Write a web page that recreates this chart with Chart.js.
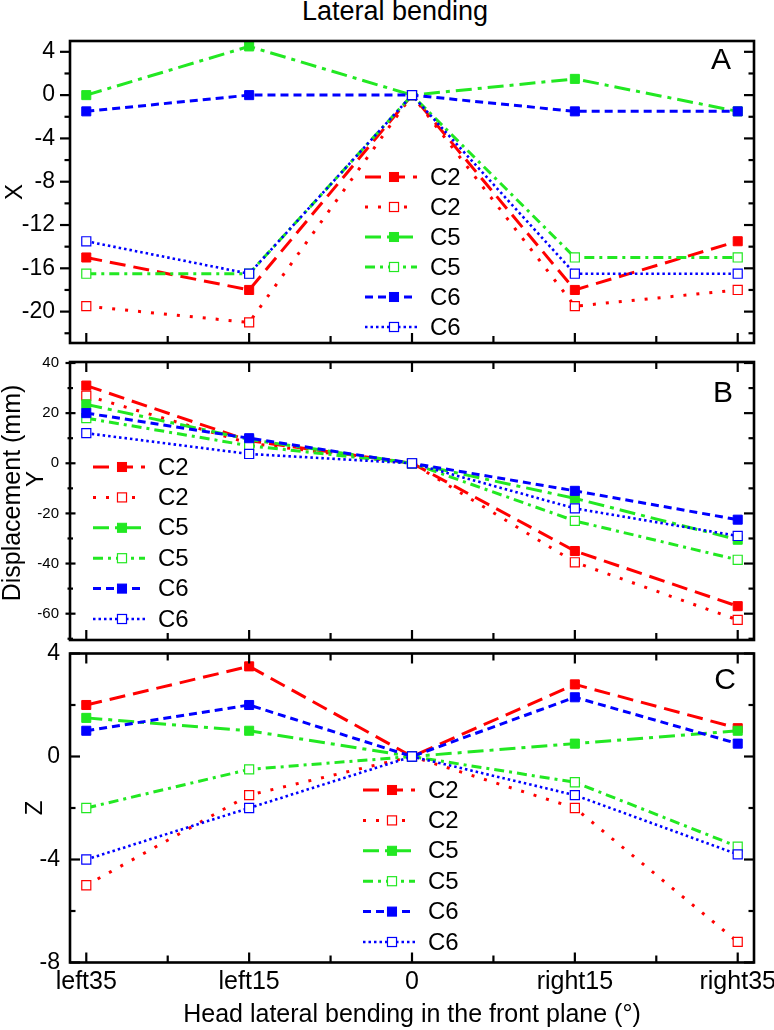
<!DOCTYPE html>
<html>
<head>
<meta charset="utf-8">
<script src="https://cdn.jsdelivr.net/npm/chart.js@4.4.1/dist/chart.umd.min.js"></script>
<style>
  body { margin: 0; background: #fff; }
  #wrap { position: relative; width: 774px; height: 1030px; overflow: hidden; background: #fff; }
  canvas { position: absolute; left: 0; }
  #title { position: absolute; top: -3px; left: 0; width: 790px; text-align: center;
           font: 27px 'Liberation Sans', Arial, sans-serif; line-height: 28px; color: #000; }
</style>
</head>
<body>
<div id="wrap">
  <div id="title">Lateral bending</div>
  <canvas id="chartA" width="774" height="352" style="top:0px"></canvas>
  <canvas id="chartB" width="774" height="310" style="top:340px"></canvas>
  <canvas id="chartC" width="774" height="410" style="top:620px"></canvas>
</div>
<script>
// categories on the x axis (same for all three panels)
const categories = ['left35', 'left15', '0', 'right15', 'right35'];
const seriesLabels = ['C2', 'C2', 'C5', 'C5', 'C6', 'C6'];

// panel A : X
const xC2     = [-15, -18, 0, -18, -13.5];
const xC2open = [-19.5, -21, 0, -19.5, -18];
const xC5     = [0, 4.5, 0, 1.5, -1.5];
const xC5open = [-16.5, -16.5, 0, -15, -15];
const xC6     = [-1.5, 0, 0, -1.5, -1.5];
const xC6open = [-13.5, -16.5, 0, -16.5, -16.5];

// panel B : Y
const yC2     = [31, 9, 0, -35, -57];
const yC2open = [27, 8, 0, -39.5, -62.5];
const yC5     = [23.5, 9.5, 0, -14, -30.5];
const yC5open = [18, 7, 0, -23, -38.5];
const yC6     = [20, 10, 0, -11, -22.5];
const yC6open = [12, 3.7, 0, -18, -29];

// panel C : Z
const zC2     = [2, 3.5, 0, 2.8, 1.1];
const zC2open = [-5, -1.5, 0, -2, -7.2];
const zC5     = [1.5, 1, 0, 0.5, 1];
const zC5open = [-2, -0.5, 0, -1, -3.5];
const zC6     = [1, 2, 0, 2.3, 0.5];
const zC6open = [-4, -2, 0, -1.5, -3.8];

const FONT = "'Liberation Sans', Arial, sans-serif";
Chart.defaults.font.family = FONT;
Chart.defaults.color = '#000';

const colors = ['#ff0000', '#ff0000', '#22e822', '#22e822', '#0000ff', '#0000ff'];
const dashes = [[16, 8], [3, 10], [16, 6, 4, 6], [10, 5, 3, 5], [8, 5], [2.5, 3]];
const hollow = [false, true, false, true, false, true];
const MARK = 6.4;

function makeDatasets(series) {
  return series.map((vals, i) => ({
    label: seriesLabels[i],
    data: vals.map((v, k) => ({x: k, y: v})),
    borderColor: colors[i],
    borderWidth: i === 5 ? 2.6 : 3,
    borderDash: dashes[i],
    borderCapStyle: 'butt',
    fill: false,
    tension: 0,
    pointStyle: 'rect',
    pointRadius: MARK,
    pointHoverRadius: MARK,
    pointBackgroundColor: hollow[i] ? '#ffffff' : colors[i],
    pointBorderColor: colors[i],
    pointBorderWidth: hollow[i] ? 1.2 : 1,
    order: 5 - i
  }));
}

// frame box with tick marks (in / out / cross per side)
const frameTicks = {
  id: 'frameTicks',
  afterDatasetsDraw(chart, args, o) {
    const {ctx, chartArea: a} = chart;
    const xs = chart.scales.x, ys = chart.scales.y;
    ctx.save();
    ctx.strokeStyle = '#000';
    ctx.lineWidth = 2.2;
    const yMaj = ys.ticks.map(t => t.value);
    const yStep = yMaj[1] - yMaj[0];
    const yMin = [];
    for (let v = yMaj[0] - yStep / 2; v < ys.max; v += yStep) if (v > ys.min) yMin.push(v);
    const xMaj = xs.ticks.map(t => t.value);
    const xMin = [];
    for (let k = 0; k < xMaj.length - 1; k++) xMin.push((xMaj[k] + xMaj[k + 1]) / 2);
    const seg = (x1, y1, x2, y2) => { ctx.beginPath(); ctx.moveTo(x1, y1); ctx.lineTo(x2, y2); ctx.stroke(); };
    const span = (mode, len) => mode === 'in' ? [0, len] : mode === 'out' ? [-len, 0] : [-len * 0.45, len * 0.55];
    const side = (name, vals, len) => {
      const mode = o[name];
      if (!mode) return;
      const [s0, s1] = span(mode, len);
      vals.forEach(v => {
        if (name === 'left' || name === 'right') {
          const p = ys.getPixelForValue(v);
          if (name === 'left') seg(a.left + s0, p, a.left + s1, p);
          else seg(a.right - s0, p, a.right - s1, p);
        } else {
          const p = xs.getPixelForValue(v);
          if (name === 'top') seg(p, a.top + s0, p, a.top + s1);
          else seg(p, a.bottom - s0, p, a.bottom - s1);
        }
      });
    };
    ['left', 'right'].forEach(s => { side(s, yMaj, 10); side(s, yMin, 5.5); });
    ['top', 'bottom'].forEach(s => { side(s, xMaj, 10); side(s, xMin, 7); });
    ctx.lineWidth = 2.6;
    ctx.strokeRect(a.left, a.top, a.right - a.left, a.bottom - a.top);
    ctx.restore();
  }
};

// legend drawn inside the plot
const insideLegend = {
  id: 'insideLegend',
  afterDraw(chart, args, o) {
    const {ctx} = chart;
    ctx.save();
    chart.data.datasets.forEach((ds, i) => {
      const y = o.y + i * o.gap;
      ctx.strokeStyle = ds.borderColor;
      ctx.lineWidth = ds.borderWidth;
      ctx.setLineDash(ds.borderDash);
      ctx.beginPath();
      ctx.moveTo(o.x, y);
      ctx.lineTo(o.x + 52, y);
      ctx.stroke();
      ctx.setLineDash([]);
      const s = MARK * Math.SQRT1_2;
      const mx = o.x + 29;
      ctx.fillStyle = ds.pointBackgroundColor;
      ctx.fillRect(mx - s, y - s, 2 * s, 2 * s);
      ctx.lineWidth = ds.pointBorderWidth;
      ctx.strokeStyle = ds.pointBorderColor;
      ctx.strokeRect(mx - s, y - s, 2 * s, 2 * s);
      ctx.fillStyle = '#000';
      ctx.font = '24px ' + FONT;
      ctx.textAlign = 'left';
      ctx.textBaseline = 'middle';
      ctx.fillText(ds.label, o.x + 65, y + 1);
    });
    ctx.restore();
  }
};

// free text: panel letters and side titles
const textMarks = {
  id: 'textMarks',
  afterDraw(chart, args, o) {
    const {ctx} = chart;
    (o.items || []).forEach(t => {
      ctx.save();
      ctx.translate(t.x, t.y);
      if (t.rotate) ctx.rotate(-Math.PI / 2);
      ctx.font = t.size + 'px ' + FONT;
      ctx.fillStyle = '#000';
      ctx.textAlign = 'center';
      ctx.textBaseline = 'middle';
      ctx.fillText(t.text, 0, 0);
      ctx.restore();
    });
  }
};

function makeChart(id, series, p) {
  return new Chart(document.getElementById(id), {
    type: 'line',
    data: { datasets: makeDatasets(series) },
    options: {
      responsive: false,
      animation: false,
      devicePixelRatio: 1,
      layout: { padding: { top: p.padTop, right: 20, bottom: 0, left: 0 } },
      scales: {
        x: {
          type: 'linear',
          min: -0.1,
          max: 4.1,
          grid: { display: false, drawTicks: false },
          border: { display: false },
          ticks: {
            display: p.showX,
            stepSize: 1,
            includeBounds: false,
            autoSkip: false,
            maxRotation: 0,
            padding: 5,
            font: { size: 25 },
            callback: v => categories[v] !== undefined ? categories[v] : ''
          },
          title: {
            display: p.showX,
            text: 'Head lateral bending in the front plane (°)',
            font: { size: 25 },
            padding: { top: 0, bottom: 0 }
          },
          afterFit: s => {
            s.height = p.xHeight;
            s.paddingLeft = 0;
            s.paddingRight = 0;
          }
        },
        y: {
          min: p.yMin,
          max: p.yMax,
          grid: { display: false, drawTicks: false },
          border: { display: false },
          ticks: {
            stepSize: p.yStep,
            includeBounds: false,
            padding: p.labelPad,
            font: { size: p.labelSize }
          },
          title: {
            display: !!p.yTitle,
            text: p.yTitle || '',
            font: { size: 24 },
            padding: { top: p.yTitlePad || 0, bottom: 0 }
          },
          afterFit: s => {
            s.width = 70;
            s.paddingTop = 0;
            s.paddingBottom = 0;
          }
        }
      },
      plugins: {
        legend: { display: false },
        title: { display: false },
        tooltip: { enabled: false },
        frameTicks: p.ticks,
        insideLegend: p.legend,
        textMarks: { items: p.texts }
      }
    },
    plugins: [frameTicks, insideLegend, textMarks]
  });
}

makeChart('chartA', [xC2, xC2open, xC5, xC5open, xC6, xC6open], {
  padTop: 41, xHeight: 9, showX: false,
  yMin: -22.9, yMax: 5, yStep: 4, labelSize: 23, labelPad: 15,
  yTitle: 'X', yTitlePad: 0.6,
  ticks: { left: 'out', right: 'in', top: null, bottom: 'in' },
  legend: { x: 365, y: 177, gap: 30 },
  texts: [{ text: 'A', x: 721, y: 61, size: 30 }]
});

makeChart('chartB', [yC2, yC2open, yC5, yC5open, yC6, yC6open], {
  padTop: 22, xHeight: 10, showX: false,
  yMin: -70.5, yMax: 40.4, yStep: 20, labelSize: 15, labelPad: 11,
  yTitle: null,
  ticks: { left: 'cross', right: 'in', top: 'in', bottom: 'in' },
  legend: { x: 93, y: 127, gap: 30.4 },
  texts: [
    { text: 'B', x: 723, y: 54, size: 30 },
    { text: 'Displacement (mm)', x: 13, y: 153, size: 25, rotate: true },
    { text: 'Y', x: 36, y: 139, size: 24, rotate: true }
  ]
});

makeChart('chartC', [zC2, zC2open, zC5, zC5open, zC6, zC6open], {
  padTop: 33.5, xHeight: 67.5, showX: true,
  yMin: -8, yMax: 4, yStep: 4, labelSize: 23, labelPad: 10,
  yTitle: 'Z', yTitlePad: 20.6,
  ticks: { left: 'in', right: 'in', top: 'in', bottom: 'in' },
  legend: { x: 363, y: 170, gap: 30.4 },
  texts: [{ text: 'C', x: 725, y: 61, size: 30 }]
});
</script>
</body>
</html>
